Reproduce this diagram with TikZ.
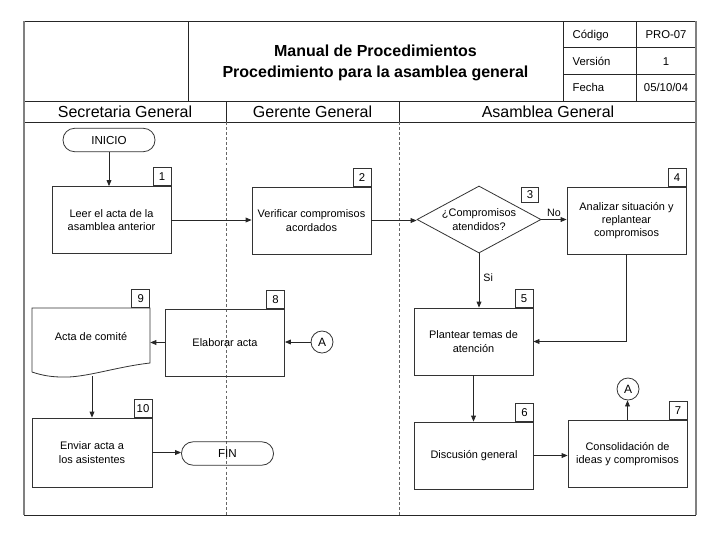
\documentclass[tikz,border=0pt]{standalone}
\usepackage{fontspec}
\setmainfont{Liberation Sans}
\usetikzlibrary{arrows.meta,shapes.geometric}
\tikzset{
  ln/.style={draw=black!85, line width=0.6pt},
  box/.style={draw=black!80, line width=0.6pt, minimum width=89.25pt, minimum height=50.25pt,
    align=center, inner sep=0pt, font=\fontsize{8.2}{10}\selectfont},
  num/.style={draw=black!80, line width=0.6pt, minimum width=13.5pt, minimum height=13.5pt, inner sep=0pt,
    anchor=south east, font=\fontsize{8.5}{10}\selectfont},
  term/.style={draw=black!80, line width=0.6pt, rounded corners=8.6pt, minimum width=69pt, minimum height=17.5pt,
    inner sep=0pt, font=\fontsize{8.7}{10}\selectfont},
  conn/.style={circle, draw=black!80, line width=0.6pt, minimum size=16.5pt, inner sep=0pt,
    font=\fontsize{9}{10}\selectfont},
  arr/.style={draw=black!85, line width=0.6pt, -{Triangle[length=4.5pt,width=3.6pt]}},
  lbl/.style={font=\fontsize{8}{10}\selectfont, inner sep=1pt},
  hdr/.style={font=\fontsize{12}{14}\selectfont},
  tbl/.style={font=\fontsize{8.5}{10}\selectfont}
}
\begin{document}
\begin{tikzpicture}[x=0.75pt,y=-0.75pt]
\useasboundingbox (0,0) rectangle (720,540);
\fill[white] (0,0) rectangle (720,540);
% frame
\draw[ln] (24,21) -- (696,21);
\draw[ln] (24,515) -- (696,515);
\draw[ln] (24,101) -- (696,101);
\draw[ln] (24,122) -- (696,122);
\draw[ln] (188,21) -- (188,101);
\draw[ln] (563,21) -- (563,101);
\draw[ln] (636,21) -- (636,101);
\draw[ln] (563,47) -- (696,47);
\draw[ln] (563,74) -- (696,74);
\draw[ln] (226,101) -- (226,122);
\draw[ln] (399,101) -- (399,122);
\draw[draw=black!60, line width=0.6pt, dash pattern=on 2.2pt off 1.6pt] (226,122) -- (226,515);
\draw[draw=black!60, line width=0.6pt, dash pattern=on 2.2pt off 1.6pt] (399,122) -- (399,515);
\draw[draw=black!50, line width=1.3pt] (24,21) -- (24,515);
\draw[draw=black!50, line width=1.3pt] (696,21) -- (696,515);
% header texts
\node[font=\bfseries\fontsize{12}{15.5}\selectfont, align=center] (title) at (375.5,63)
  {Manual de Procedimientos\\Procedimiento para la asamblea general};
\node[tbl, anchor=base west] (t1) at (568,38.5) {Código};
\node[tbl, anchor=base] (t2) at (666,38.5) {PRO-07};
\node[tbl, anchor=base west] (t3) at (568,65) {Versión};
\node[tbl, anchor=base] (t4) at (666,65) {1};
\node[tbl, anchor=base west] (t5) at (568,91.5) {Fecha};
\node[tbl, anchor=base] (t6) at (666,91.5) {05/10/04};
\node[hdr] (l1) at (125,112) {Secretaria General};
\node[hdr] (l2) at (312.5,112) {Gerente General};
\node[hdr] (l3) at (548,112) {Asamblea General};
% nodes
\node[term] (inicio) at (109,140) {INICIO};
\node[box] (b1) at (111.5,220) {Leer el acta de la\\asamblea anterior};
\node[num] at (b1.north east) {1};
\node[box] (b2) at (311.5,220.5) {Verificar compromisos\\acordados};
\node[num] at (b2.north east) {2};
\node[diamond, draw=black!80, line width=0.6pt, minimum width=93pt, minimum height=50.25pt, inner sep=0pt] (d3) at (479,219.5) {};
\node[font=\fontsize{8.2}{10}\selectfont, align=center] (d3t) at (d3) {¿Compromisos\\atendidos?};
\node[draw=black!80, line width=0.6pt, minimum width=12.75pt, minimum height=11.5pt, inner sep=0pt, font=\fontsize{8.5}{10}\selectfont] (n3) at (530,195) {3};
\node[box] (b4) at (626.5,220.5) {Analizar situación y\\replantear\\compromisos};
\node[num] at (b4.north east) {4};
\node[box] (b5) at (473.5,341.5) {Plantear temas de\\atención};
\node[num] at (b5.north east) {5};
\node[box] (b6) at (474,455.5) {Discusión general};
\node[num] at (b6.north east) {6};
\node[box] (b7) at (627.5,454) {Consolidación de\\ideas y compromisos};
\node[num] at (b7.north east) {7};
\node[conn] (a1) at (628,389) {A};
\node[box] (b8) at (225,342.5) {Elaborar acta};
\node[num] at (b8.north east) {8};
\node[conn] (a2) at (322,342) {A};
\node[minimum width=88.5pt, minimum height=48pt, inner sep=0pt] (b9) at (91,340) {};
\draw[draw=black!80, line width=0.6pt] (32,372) -- (32,308) -- (150,308) -- (150,363)
  .. controls (115,367) and (85,378) .. (62,377) .. controls (48,377) and (38,374) .. (32,372);
\node[font=\fontsize{8.2}{10}\selectfont] (b9t) at (91,337) {Acta de comité};
\node[num] at (b9.north east) {9};
\coordinate (b9b) at (92,376);
\node[box, minimum width=90pt, minimum height=51.75pt] (b10) at (92,452.5) {Enviar acta a\\los asistentes};
\node[num] at (b10.north east) {10};
\node[term] (fin) at (227.5,453.5) {FIN};
% connectors
\draw[arr] (inicio.south) -- (inicio.south |- b1.north);
\draw[arr] (b1.east) -- (b1.east -| b2.west);
\draw[arr] (b2.east) -- (b2.east -| d3.west);
\draw[arr] (d3.east) -- (d3.east -| b4.west) node[lbl, midway, above=1pt] {No};
\draw[arr] (d3.south) -- (d3.south |- b5.north) node[lbl, pos=0.45, right=2pt] {Si};
\draw[arr] (b4.south) |- (b5.east);
\draw[arr] (b5.south) -- (b5.south |- b6.north);
\draw[arr] (b6.east) -- (b6.east -| b7.west);
\draw[arr] (b7.north) -- (b7.north |- a1.south);
\draw[arr] (a2.west) -- (a2.west -| b8.east);
\draw[arr] (b8.west) -- (b8.west -| b9.east);
\draw[arr] (b9b) -- (b9b |- b10.north);
\draw[arr] (b10.east) -- (b10.east -| fin.west);
\end{tikzpicture}
\end{document}
